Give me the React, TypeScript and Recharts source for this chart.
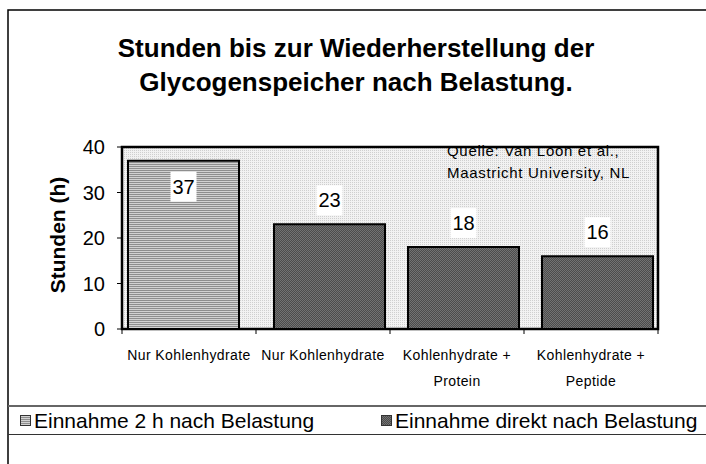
import React from 'react';
import { BarChart, Bar, XAxis, YAxis, Legend, LabelList, Customized, CartesianGrid, ReferenceArea } from 'recharts';

const categoryLines: string[][] = [
  ['Nur Kohlenhydrate'],
  ['Nur Kohlenhydrate'],
  ['Kohlenhydrate +', 'Protein'],
  ['Kohlenhydrate +', 'Peptide'],
];
const seriesLate: (number | null)[] = [37, null, null, null];
const seriesDirect: (number | null)[] = [null, 23, 18, 16];
const seriesNames = ['Einnahme 2 h nach Belastung', 'Einnahme direkt nach Belastung'];
const yTicks = [0, 10, 20, 30, 40];
const titleLines = ['Stunden bis zur Wiederherstellung der', 'Glycogenspeicher nach Belastung.'];
const sourceLines = ['Quelle: Van Loon et al.,', 'Maastricht University, NL'];
const yAxisTitle = 'Stunden (h)';

const data = categoryLines.map((lines, i) => ({
  name: lines.join(' '),
  idx: i,
  late: seriesLate[i],
  direct: seriesDirect[i],
}));

const FONT = 'Liberation Sans, Arial, sans-serif';
const W = 706;
const H = 464;
const M = { top: 147, right: 48, bottom: 55, left: 62 };
const Y_W = 60;
const X_H = 50;
const BAND = (W - M.left - Y_W - M.right) / categoryLines.length;

const XTick = (props: any) => {
  const { x, y, payload, index } = props;
  const lines = categoryLines[payload.index ?? index] || [String(payload.value)];
  const half = BAND / 2;
  return (
    <g>
      <line x1={x - half} y1={y} x2={x - half} y2={y + 5} stroke="#000" strokeWidth={1} />
      {index === categoryLines.length - 1 && (
        <line x1={x + half} y1={y} x2={x + half} y2={y + 5} stroke="#000" strokeWidth={1} />
      )}
      {lines.map((l, i) => (
        <text key={i} x={x} y={y + 31 + i * 26} textAnchor="middle" fontFamily={FONT} fontSize={14} letterSpacing={0.4} fill="#000">
          {l}
        </text>
      ))}
    </g>
  );
};

const makeLabel = (dy: number) => (props: any) => {
  const { x, y, width, value } = props;
  if (value === null || value === undefined) return null;
  const cx = x + width / 2;
  const cy = y + dy;
  return (
    <g>
      <rect x={cx - 13} y={cy - 15} width={26} height={30} fill="#fff" />
      <text x={cx} y={cy + 7} textAnchor="middle" fontFamily={FONT} fontSize={20} fill="#000">
        {value}
      </text>
    </g>
  );
};

const Decor = () => (
  <g>
    <rect x={8} y={10} width={W} height={H} fill="none" stroke="#000" strokeWidth={1.5} />
    {titleLines.map((t, i) => (
      <text key={i} x={356} y={57 + i * 34} textAnchor="middle" fontFamily={FONT} fontWeight="bold" fontSize={26} fill="#000">
        {t}
      </text>
    ))}
    <text transform="translate(65,235) rotate(-90)" textAnchor="middle" fontFamily={FONT} fontWeight="bold" fontSize={21} fill="#000">
      {yAxisTitle}
    </text>
    {sourceLines.map((t, i) => (
      <text key={i} x={447} y={156 + i * 22} fontFamily={FONT} fontSize={15} letterSpacing={0.7} fill="#000">
        {t}
      </text>
    ))}
  </g>
);

const LegendContent = () => (
  <div
    style={{
      boxSizing: 'border-box',
      height: 30,
      marginLeft: 8,
      borderTop: '2px solid #666',
      borderBottom: '1.5px solid #333',
      position: 'relative',
      fontFamily: FONT,
      fontSize: 21,
      color: '#000',
    }}
  >
    {seriesNames.map((n, i) => (
      <div key={i} style={{ position: 'absolute', left: i === 0 ? 12 : 373, top: 0, height: 27, lineHeight: '27px', display: 'flex', alignItems: 'center', whiteSpace: 'nowrap' }}>
        <svg width={11} height={11} style={{ marginRight: 3 }}>
          <rect x={0.5} y={0.5} width={10} height={10} fill={i === 0 ? 'url(#stripes)' : 'url(#darkdots)'} stroke="#333" strokeWidth={1} />
        </svg>
        <span>{n}</span>
      </div>
    ))}
  </div>
);

export default function App() {
  return (
    <div style={{ position: 'absolute', left: 0, top: 0, width: W, height: H, background: '#fff', overflow: 'hidden' }}>
      <BarChart width={W} height={H} data={data} margin={M} barSize={111} barGap={-99} barCategoryGap={0}>
        <defs>
          <pattern id="bgdots" width={2} height={2} patternUnits="userSpaceOnUse">
            <rect width={2} height={2} fill="#f2f2f2" />
            <rect width={1} height={1} fill="#cfcfcf" />
          </pattern>
          <pattern id="stripes" width={4} height={2} patternUnits="userSpaceOnUse">
            <rect width={4} height={2} fill="#d2d2d2" />
            <rect width={4} height={1} fill="#8e8e8e" />
          </pattern>
          <pattern id="darkdots" width={2} height={2} patternUnits="userSpaceOnUse">
            <rect width={2} height={2} fill="#4c4c4c" />
            <rect width={1} height={1} fill="#737373" />
            <rect x={1} y={1} width={1} height={1} fill="#737373" />
          </pattern>
        </defs>
        <CartesianGrid horizontal={false} vertical={false} fill="url(#bgdots)" />
        <XAxis
          dataKey="name"
          height={X_H}
          axisLine={{ stroke: '#000', strokeWidth: 1.5 }}
          tickLine={false}
          tickSize={0}
          tickMargin={0}
          interval={0}
          tick={<XTick />}
        />
        <YAxis
          width={Y_W}
          domain={[0, 40]}
          ticks={yTicks}
          allowDataOverflow
          axisLine={{ stroke: '#000', strokeWidth: 1.5 }}
          tickLine={{ stroke: '#000' }}
          tickSize={5}
          tickMargin={12}
          tick={{ fontFamily: FONT, fontSize: 20, fill: '#000' }}
        />
        <Bar dataKey="late" name={seriesNames[0]} fill="url(#stripes)" stroke="#000" strokeWidth={2} isAnimationActive={false}>
          <LabelList dataKey="late" content={makeLabel(26)} />
        </Bar>
        <Bar dataKey="direct" name={seriesNames[1]} fill="url(#darkdots)" stroke="#000" strokeWidth={2} isAnimationActive={false}>
          <LabelList dataKey="direct" content={makeLabel(-24)} />
        </Bar>
        <ReferenceArea y1={0} y2={40} fill="none" stroke="#000" strokeWidth={2.5} ifOverflow="visible" />
        <Legend verticalAlign="bottom" content={<LegendContent />} wrapperStyle={{ left: 0, top: 405, width: W, bottom: 'auto' }} />
        <Customized component={<Decor />} />
      </BarChart>
    </div>
  );
}
